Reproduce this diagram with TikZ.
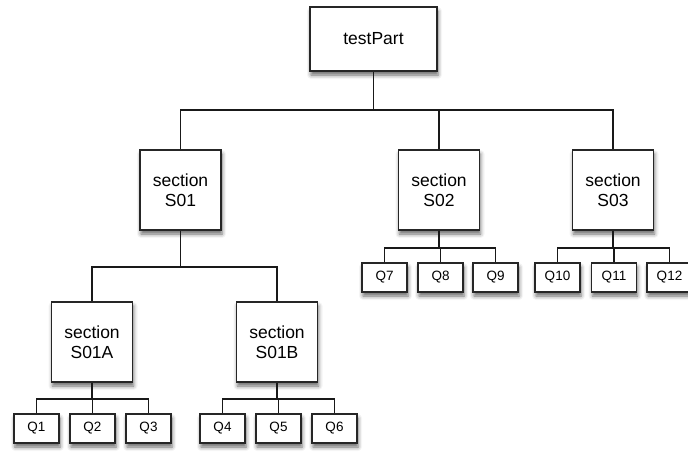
\documentclass[tikz,border=0pt]{standalone}
\usepackage{fontspec}
\setmainfont{Liberation Sans}
\usepackage{tikz}
\usetikzlibrary{positioning,shadows.blur}

\tikzset{
  box/.style={draw=black!85,line width=1.5pt,fill=white,inner sep=0pt,align=center,
    blur shadow={shadow xshift=1pt,shadow yshift=-4pt,shadow blur radius=4pt,shadow opacity=60}},
  rootbox/.style={box,minimum width=127pt,minimum height=64pt,font=\fontsize{17.5}{20}\selectfont},
  secbox/.style={box,minimum width=81pt,minimum height=80pt,font=\fontsize{17.5}{20}\selectfont},
  qbox/.style={box,minimum width=45pt,minimum height=29pt,font=\fontsize{13.5}{15}\selectfont},
  link/.style={draw=black!90,line width=1.5pt}
}

\begin{document}
\begin{tikzpicture}[x=1pt,y=-1pt]
	\useasboundingbox (0,0) rectangle (688,451);
	\node[rootbox] (tp) at (373.5,39) {testPart};
	\node[secbox] (s01) at (180.5,190) {section\\S01};
	\node[secbox] (s02) at (439,190) {section\\S02};
	\node[secbox] (s03) at (613,190) {section\\S03};
	\node[secbox] (s01a) at (92,342) {section\\S01A};
	\node[secbox] (s01b) at (277,342) {section\\S01B};
	\node[qbox] (q1) at (36.5,428.5) {Q1};
	\node[qbox] (q2) at (92.5,428.5) {Q2};
	\node[qbox] (q3) at (148.5,428.5) {Q3};
	\node[qbox] (q4) at (222.5,428.5) {Q4};
	\node[qbox] (q5) at (278.5,428.5) {Q5};
	\node[qbox] (q6) at (334.5,428.5) {Q6};
	\node[qbox] (q7) at (384.5,277.5) {Q7};
	\node[qbox] (q8) at (440.5,277.5) {Q8};
	\node[qbox] (q9) at (495.5,277.5) {Q9};
	\node[qbox] (q10) at (557.5,277.5) {Q10};
	\node[qbox] (q11) at (614,277.5) {Q11};
	\node[qbox] (q12) at (669.5,277.5) {Q12};
	\draw[link] (tp.south) -- +(0,38) coordinate (tpbar);
	\draw[link] (s01.north) |- (tpbar) -| (s03.north);
	\draw[link] (tpbar) -| (s02.north);
	\draw[link] (s01.south) -- +(0,36) coordinate (s01bar);
	\draw[link] (s01a.north) |- (s01bar) -| (s01b.north);
	\draw[link] (s02.south) -- +(0,17) coordinate (s02bar);
	\draw[link] (q7.north) |- (s02bar) -| (q9.north);
	\draw[link] (s02bar) -| (q8.north);
	\draw[link] (s03.south) -- +(0,17) coordinate (s03bar);
	\draw[link] (q10.north) |- (s03bar) -| (q12.north);
	\draw[link] (s03bar) -| (q11.north);
	\draw[link] (s01a.south) -- +(0,16) coordinate (s01abar);
	\draw[link] (q1.north) |- (s01abar) -| (q3.north);
	\draw[link] (s01abar) -| (q2.north);
	\draw[link] (s01b.south) -- +(0,16) coordinate (s01bbar);
	\draw[link] (q4.north) |- (s01bbar) -| (q6.north);
	\draw[link] (s01bbar) -| (q5.north);
\end{tikzpicture}
\end{document}
